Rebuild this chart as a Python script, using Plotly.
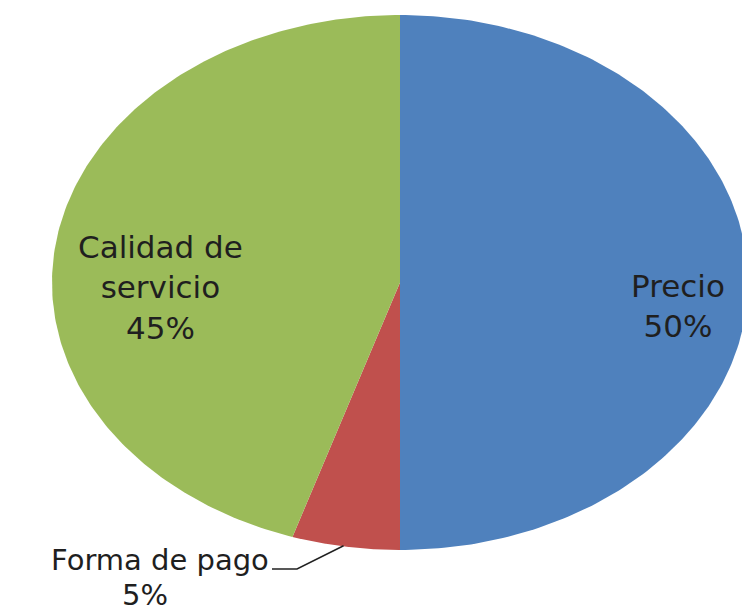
import numpy as np
import plotly.graph_objects as go

# ---- data ----
categories = ["Precio", "Forma de pago", "Calidad de servicio"]
values = [50, 5, 45]
colors = ["#4F81BD", "#C0504D", "#9BBB59"]
label_texts = ["Precio", "Forma de pago", "Calidad de<br>servicio"]

# ---- layout geometry (pixels) ----
W, H = 742, 611
cx, cy = 400, 282.5
rx, ry = 348, 267.5

total = float(sum(values))
fracs = [v / total for v in values]
cum = np.concatenate([[0], np.cumsum(fracs)])

def pt(theta, f=1.0):
    # theta measured clockwise from 12 o'clock, in radians
    return cx + rx * f * np.sin(theta), cy - ry * f * np.cos(theta)

fig = go.Figure()
for i, cat in enumerate(categories):
    a0, a1 = cum[i] * 2 * np.pi, cum[i + 1] * 2 * np.pi
    th = np.linspace(a0, a1, 200)
    xs, ys = pt(th)
    xs = np.concatenate([[cx], xs, [cx]])
    ys = np.concatenate([[cy], ys, [cy]])
    fig.add_trace(go.Scatter(x=xs, y=ys, fill="toself", fillcolor=colors[i],
                             mode="lines", line=dict(width=0, color=colors[i]),
                             hoverinfo="text", text=cat, showlegend=False))

font = dict(family="DejaVu Sans", size=31, color="#1f1f1f")
font_small = dict(family="DejaVu Sans", size=29, color="#1f1f1f")
pct = [f"{round(f*100)}%" for f in fracs]

mid = [(cum[i] + cum[i + 1]) * np.pi for i in range(len(values))]
# Precio
px, py = pt(mid[0], 0.80)
fig.add_annotation(x=px, y=py + 23, text=f"{label_texts[0]}<br>{pct[0]}",
                   showarrow=False, font=font, align="center")
# Calidad de servicio
qx, qy = pt(mid[2], 0.69)
fig.add_annotation(x=qx - 2, y=qy + 34, text=f"{label_texts[2]}<br>{pct[2]}",
                   showarrow=False, font=font, align="center")
# Forma de pago with leader line
sx, sy = pt(mid[1], 1.0)
fig.add_shape(type="path", path=f"M {sx-2},{sy-1} L 297,569 L 272,569",
              line=dict(color="#222222", width=1.5), xref="x", yref="y")
fig.add_annotation(x=270, y=560, xanchor="right", text=label_texts[1],
                   showarrow=False, font=font_small, borderpad=0)
fig.add_annotation(x=145, y=595, text=pct[1], showarrow=False, font=font_small, borderpad=0)

fig.update_layout(
    width=W, height=H,
    margin=dict(l=0, r=0, t=0, b=0),
    paper_bgcolor="white", plot_bgcolor="white",
    xaxis=dict(range=[0, W], visible=False, fixedrange=True),
    yaxis=dict(range=[H, 0], visible=False, fixedrange=True),
    showlegend=False,
)
fig.write_html("out.html", config={"displayModeBar": False},
               post_script="document.body.style.margin='0';document.body.style.overflow='hidden';")
